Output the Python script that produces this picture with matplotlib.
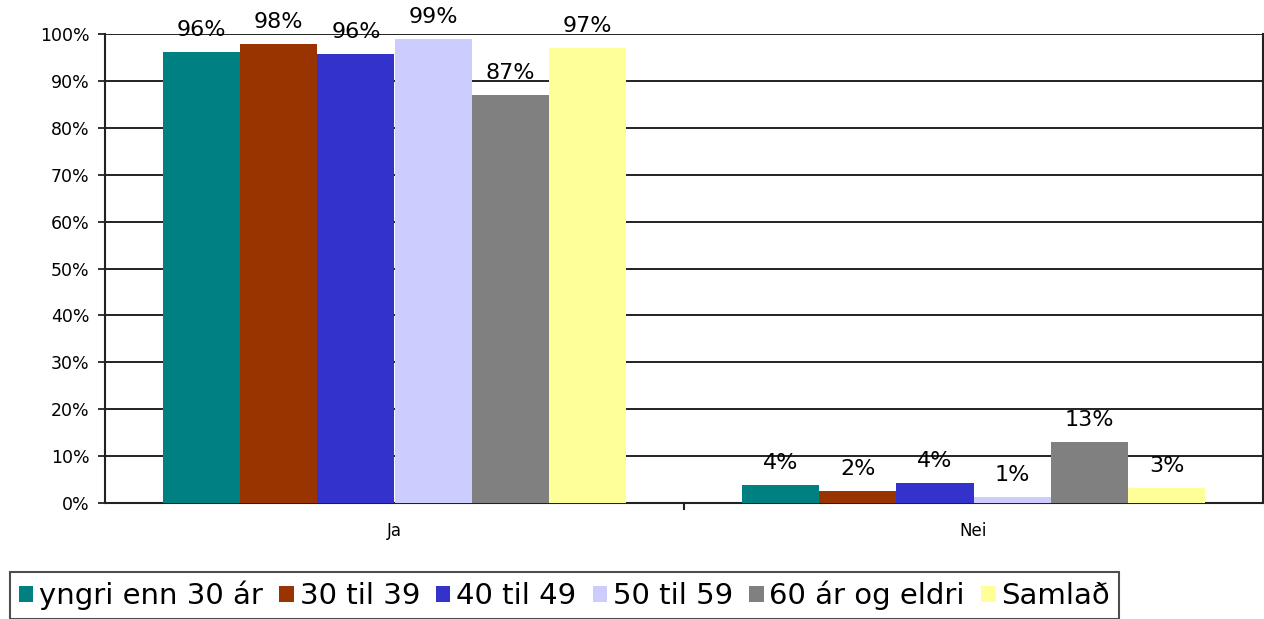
import numpy as np
import matplotlib
matplotlib.use("Agg")
import matplotlib.pyplot as plt

categories = ["Ja", "Nei"]
series = ["yngri enn 30 ár", "30 til 39", "40 til 49", "50 til 59", "60 ár og eldri", "Samlað"]
values = [
    [96.2, 3.8],
    [97.9, 2.6],
    [95.7, 4.3],
    [98.9, 1.3],
    [87.1, 13.0],
    [97.0, 3.2],
]
labels = [
    ["96%", "4%"],
    ["98%", "2%"],
    ["96%", "4%"],
    ["99%", "1%"],
    ["87%", "13%"],
    ["97%", "3%"],
]
colors = ["#008080", "#993300", "#3333CC", "#CCCCFF", "#808080", "#FFFF99"]

W, H = 1264, 619
fig = plt.figure(figsize=(W / 100, H / 100), dpi=100)
ax = fig.add_axes([105 / W, 1 - 503 / H, (1263 - 105) / W, (503 - 34) / H])

x = np.arange(len(categories))
bw = 0.8 / len(series)
for i, (name, vals, c) in enumerate(zip(series, values, colors)):
    pos = x - 0.4 + bw * (i + 0.5)
    ax.bar(pos, vals, width=bw, color=c, label=name, zorder=3)
    for p, v, t in zip(pos, vals, labels[i]):
        ax.annotate(t, (p, v), xytext=(0, 11.5), textcoords="offset points",
                    ha="center", va="baseline", fontsize=16, zorder=4)

ax.set_xlim(-0.5, 1.5)
ax.set_ylim(0, 100)
ax.set_yticks(range(0, 101, 10))
ax.set_yticklabels([f"{v}%" for v in range(0, 101, 10)], fontsize=12.5)
ax.yaxis.grid(True, color="#222222", linewidth=1.4, zorder=0)
ax.set_xticks(x)
ax.set_xticklabels(categories, fontsize=12)
ax.tick_params(axis="x", length=0, pad=14)
ax.tick_params(axis="y", length=5, width=1.3, color="#222222", pad=6)
for b in [0.5]:
    ax.plot([b, b], [0, -1.3], color="#222222", lw=1.5, clip_on=False)
ax.spines["top"].set_visible(False)
for s in ["left", "right", "bottom"]:
    ax.spines[s].set_color("#222222")
    ax.spines[s].set_linewidth(1.5)

leg = fig.legend(loc="upper left", bbox_to_anchor=(10 / W, 1 - 572 / H),
                 ncol=6, fontsize=21, frameon=True, fancybox=False,
                 handlelength=0.5, handleheight=0.5, handletextpad=0.2,
                 columnspacing=0.55, borderpad=0.3, borderaxespad=0)
leg.get_frame().set_edgecolor("#222222")
leg.get_frame().set_linewidth(1.5)

fig.savefig("out.png", dpi=100)
